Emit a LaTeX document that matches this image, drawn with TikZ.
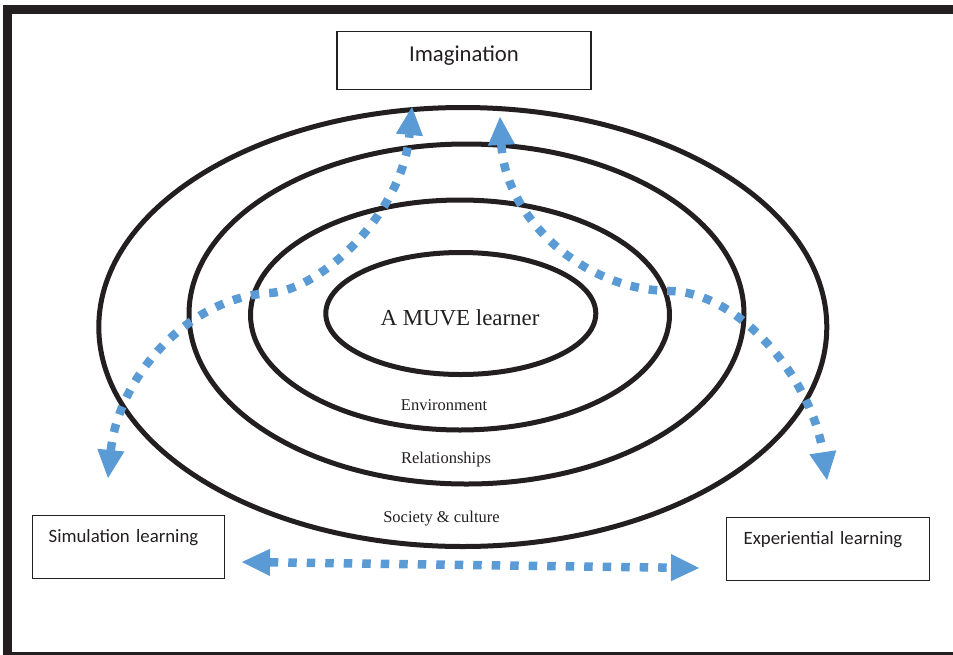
\documentclass[tikz,border=0pt]{standalone}
\usepackage{fontspec}
\setmainfont{Liberation Serif}
\newfontfamily\boxfont{Carlito}
\usetikzlibrary{arrows.meta}
\definecolor{inkblack}{HTML}{231F20}
\definecolor{flowblue}{HTML}{5B9BD5}

\begin{document}
\begin{tikzpicture}[x=1pt,y=-1pt,
  ring/.style={draw=inkblack,line width=5pt},
  flow/.style={draw=flowblue,line width=8.5pt,dash pattern=on 8.5pt off 10pt,
    {Triangle[length=28pt,width=27pt,line width=1pt]}-{Triangle[length=28pt,width=27pt,line width=1pt]}},
  labelbox/.style={draw=inkblack,line width=1.3pt,inner ysep=0pt,text=inkblack,
    font=\boxfont\fontsize{18.8}{22}\selectfont},
  sidebox/.style={anchor=north west,align=left,text height=27pt,text depth=36pt},
  ringlabel/.style={anchor=base,text=inkblack,font=\fontsize{16.5}{20}\selectfont}]
\useasboundingbox (0,0) rectangle (953,654);
% outer frame, right and bottom sides run off the page
\draw[inkblack,line width=9pt] (7.5,9.5) rectangle (966,656);

% nested rings, inner to outer: cx/cy/rx/ry
\foreach \cx/\cy/\rx/\ry in {%
  460.8/313.5/135/61,%
  460/315/209.5/115,%
  466.5/314/277.5/170,%
  462.8/327/364/219.5}{
  \draw[ring] (\cx,\cy) ellipse [x radius=\rx, y radius=\ry];
}
\node[ringlabel,font=\fontsize{22.9}{27}\selectfont] (learner) at (460,325) {A MUVE learner};
\node[ringlabel] (environment) at (444,410) {Environment};
\node[ringlabel] (relationships) at (446,463) {Relationships};
\node[ringlabel] (society) at (441.5,522) {Society \& culture};

% the three learning boxes
\node[labelbox,anchor=north,minimum width=254pt,text height=30pt,text depth=28pt,
  font=\boxfont\fontsize{22.7}{27}\selectfont] (imagination) at (464,31) {Imagination};
\node[labelbox,sidebox,text width=160pt,inner xsep=16pt] (simulation) at (32,515) {Simulation learning};
\node[labelbox,sidebox,text width=169pt,inner xsep=17pt] (experiential) at (726,517) {Experiential learning};

% free ends of the dotted arrows
\coordinate (simTip) at (108,478);
\coordinate (bendL) at (270,293);
\coordinate (imgTipL) at (412,107);
\coordinate (imgTipR) at (500,117);
\coordinate (bendR) at (670,291);
\coordinate (expTip) at (827,480);
\coordinate (simEnd) at (242,562);
\coordinate (expEnd) at (699,568);

\draw[flow] (simTip) .. controls (118,380) and (185,298) .. (bendL)
  .. controls (320,290) and (402,215) .. (imgTipL);
\draw[flow] (imgTipR) .. controls (505,215) and (580,290) .. (bendR)
  .. controls (740,292) and (812,380) .. (expTip);
\draw[flow] (simEnd) -- (expEnd);
\end{tikzpicture}
\end{document}
